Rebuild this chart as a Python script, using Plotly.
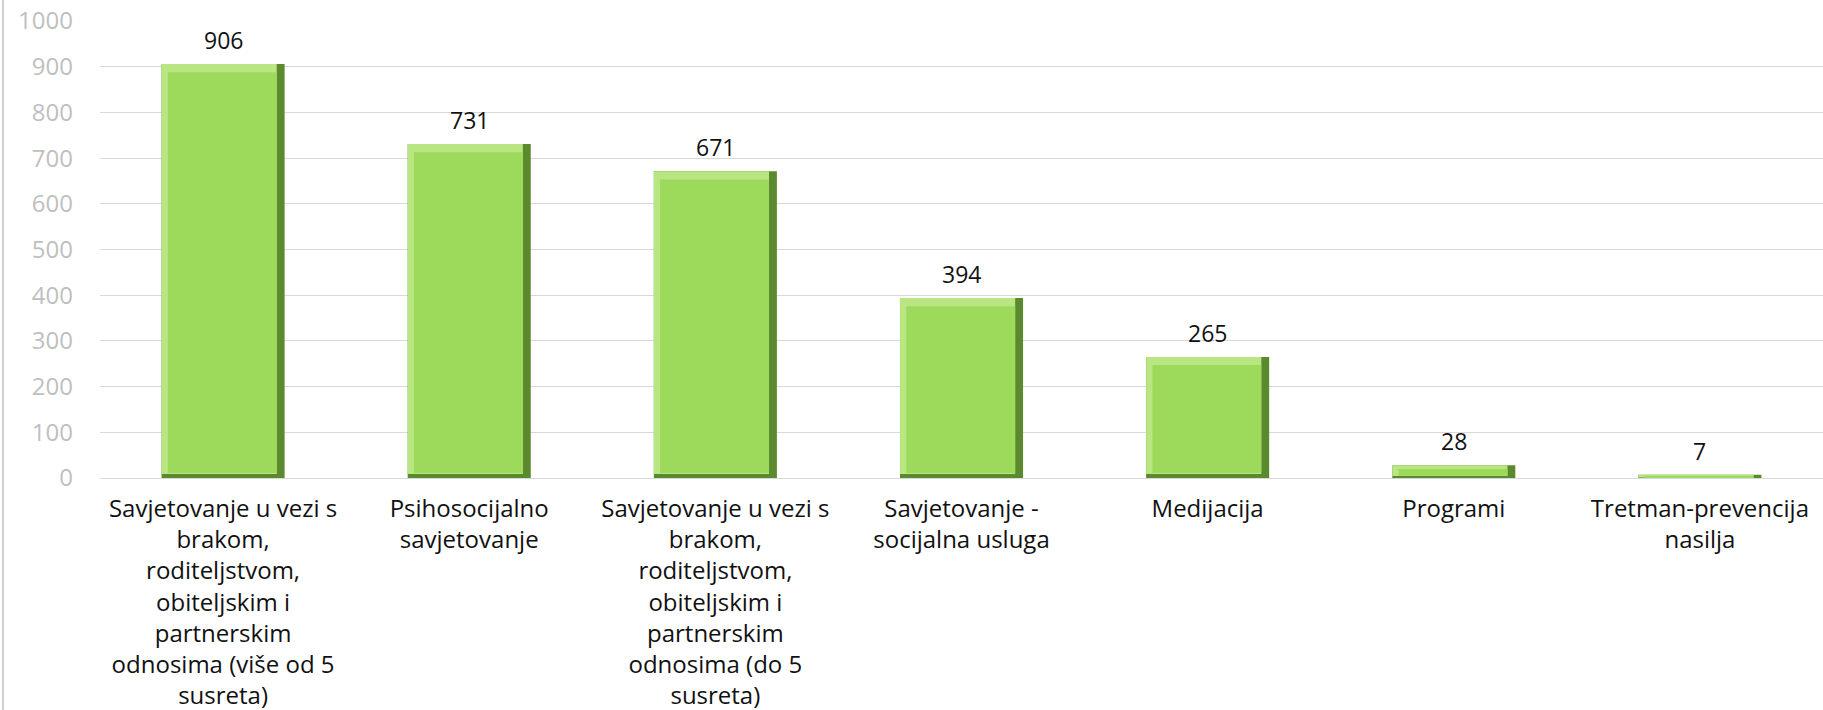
import numpy as np
import plotly.graph_objects as go

categories = [
    "Savjetovanje u vezi s<br>brakom,<br>roditeljstvom,<br>obiteljskim i<br>partnerskim<br>odnosima (više od 5<br>susreta)",
    "Psihosocijalno<br>savjetovanje",
    "Savjetovanje u vezi s<br>brakom,<br>roditeljstvom,<br>obiteljskim i<br>partnerskim<br>odnosima (do 5<br>susreta)",
    "Savjetovanje -<br>socijalna usluga",
    "Medijacija",
    "Programi",
    "Tretman-prevencija<br>nasilja",
]
values = [906, 731, 671, 394, 265, 28, 7]
y_ticks = [0, 100, 200, 300, 400, 500, 600, 700, 800, 900, 1000]

FONT = "Open Sans"
v = np.array(values, dtype=float)
bev = np.minimum(18.0, v * 0.3)
W = 0.5
E = 0.032

fig = go.Figure()
# dark edge (right / bottom)
fig.add_trace(go.Bar(x=categories, y=v, width=W, offset=-W / 2,
                     marker=dict(color="#5b8a2e", line=dict(width=0)), hoverinfo="skip"))
# light bevel (top / left)
fig.add_trace(go.Bar(x=categories, y=np.maximum(v - bev * 0.5, 0), base=bev * 0.5,
                     width=W - E, offset=-W / 2,
                     marker=dict(color="#b9e682", line=dict(width=0)), hoverinfo="skip"))
# main face
fig.add_trace(go.Bar(x=categories, y=np.maximum(v - 1.6 * bev, 0), base=bev * 0.6,
                     width=W - 1.8 * E, offset=-W / 2 + E * 0.8,
                     marker=dict(color="#9dda5b", line=dict(width=0)), hoverinfo="skip"))

for c, val in zip(categories, values):
    fig.add_annotation(x=c, y=val, text=str(val), showarrow=False,
                       yanchor="middle", yshift=24,
                       font=dict(family=FONT, size=23, color="#111111"))

fig.update_layout(
    width=1823, height=710,
    barmode="overlay",
    showlegend=False,
    plot_bgcolor="white", paper_bgcolor="white",
    margin=dict(l=100, r=0, t=21, b=232, autoexpand=False),
    xaxis=dict(tickfont=dict(family=FONT, size=24, color="#111111"),
               showgrid=False, showline=False, ticks="", tickangle=0,
               ticklabelstandoff=14, automargin=False),
    yaxis=dict(range=[0, 1000], tickvals=y_ticks,
               tickfont=dict(family=FONT, size=24, color="#bfbfbf"),
               showgrid=True, gridcolor="#d9d9d9", gridwidth=1,
               zeroline=True, zerolinecolor="#d9d9d9", zerolinewidth=1,
               ticks="", ticklabelstandoff=26, ticklabeloverflow="allow",
               automargin=False),
)
fig.add_shape(type="line", xref="paper", yref="paper", x0=-97/1723, x1=-97/1723,
              y0=-232/457, y1=1+21/457, line=dict(color="#d0d0d0", width=2))

fig.write_html("out.html",
               config={"displayModeBar": False},
               post_script="document.body.style.margin='0';document.body.style.overflow='hidden';")
